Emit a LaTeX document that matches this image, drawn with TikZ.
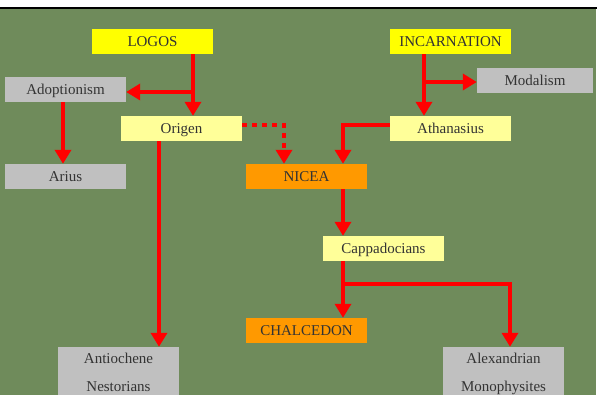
\documentclass[tikz,border=0pt]{standalone}
\usepackage{fontspec}
\setmainfont{Liberation Serif}
\usetikzlibrary{arrows.meta}
\definecolor{bggreen}{RGB}{111,139,91}
\definecolor{ctyellow}{RGB}{255,255,0}
\definecolor{ltyellow}{RGB}{255,255,153}
\definecolor{boxgray}{RGB}{192,192,192}
\definecolor{boxorange}{RGB}{255,153,0}
\definecolor{txt}{RGB}{51,51,51}
\definecolor{arrred}{RGB}{255,0,0}
\newcommand\linestrut{\rule[-4pt]{0pt}{18pt}}
\tikzset{
  base/.style={rectangle, inner sep=0pt, minimum width=121pt, minimum height=25pt,
    text=txt, font=\fontsize{15}{28}\selectfont, align=center},
  box/.style={base, text height=10.3pt, text depth=0pt},
  ybox/.style={box, fill=ctyellow},
  lbox/.style={box, fill=ltyellow},
  gbox/.style={box, fill=boxgray},
  obox/.style={box, fill=boxorange},
  gtwo/.style={base, fill=boxgray, minimum height=50pt},
  arr/.style={draw=arrred, line width=4.5pt, line join=miter,
    -{Triangle[width=16pt,length=14pt]}},
  dotarr/.style={arr, dash pattern=on 4.5pt off 5.5pt}
}
\begin{document}
\begin{tikzpicture}[x=1pt,y=-1pt]
\useasboundingbox (0,0) rectangle (597,395);
\fill[white] (0,0) rectangle (597,395);
\fill[bggreen] (0,9) rectangle (596,395);
\fill[black] (0,7) rectangle (597,9.5);

\node[ybox] (logos) at (152.5,41.5) {LOGOS};
\node[gbox] (adopt) at (65.5,89.5) {Adoptionism};
\node[lbox] (origen) at (181.5,128.5) {Origen};
\node[gbox] (arius) at (65.5,176.5) {Arius};
\node[obox] (nicea) at (306.5,176.5) {NICEA};
\node[ybox] (incarn) at (450.5,41.5) {INCARNATION};
\node[gbox, minimum width=116pt] (modal) at (535,80.5) {Modalism};
\node[lbox] (athan) at (450.5,128.5) {Athanasius};
\node[lbox] (capp) at (383.5,248.5) {Cappadocians};
\node[obox] (chalc) at (306.5,330.5) {CHALCEDON};
\node[gtwo] (antio) at (118.5,372) {\linestrut Antiochene\\\linestrut Nestorians};
\node[gtwo] (alex) at (503.5,372) {\linestrut Alexandrian\\\linestrut Monophysites};

\coordinate (b1) at (193,92);
\coordinate (b2) at (424,82);
\coordinate (b3) at (343,284);

\draw[arr] ([xshift=40.5pt]logos.south) -- ([xshift=11.5pt]origen.north);
\draw[arr] (b1) -- (b1 -| adopt.east);
\draw[arr] ([xshift=-2.5pt]adopt.south) -- ([xshift=-2.5pt]arius.north);
\draw[dotarr] ([yshift=3.5pt]origen.east) -| ([xshift=-22.5pt]nicea.north);
\draw[arr] ([xshift=-22.5pt]origen.south) -- ([xshift=40.5pt]antio.north);
\draw[arr] ([xshift=-26.5pt]incarn.south) -- ([xshift=-26.5pt]athan.north);
\draw[arr] (b2) -- (b2 -| modal.west);
\draw[arr] ([yshift=3.5pt]athan.west) -| ([xshift=36.5pt]nicea.north);
\draw[arr] ([xshift=36.5pt]nicea.south) -- ([xshift=-40.5pt]capp.north);
\draw[arr] ([xshift=-40.5pt]capp.south) -- ([xshift=36.5pt]chalc.north);
\draw[arr] (b3) -| ([xshift=6.5pt]alex.north);
\end{tikzpicture}
\end{document}
